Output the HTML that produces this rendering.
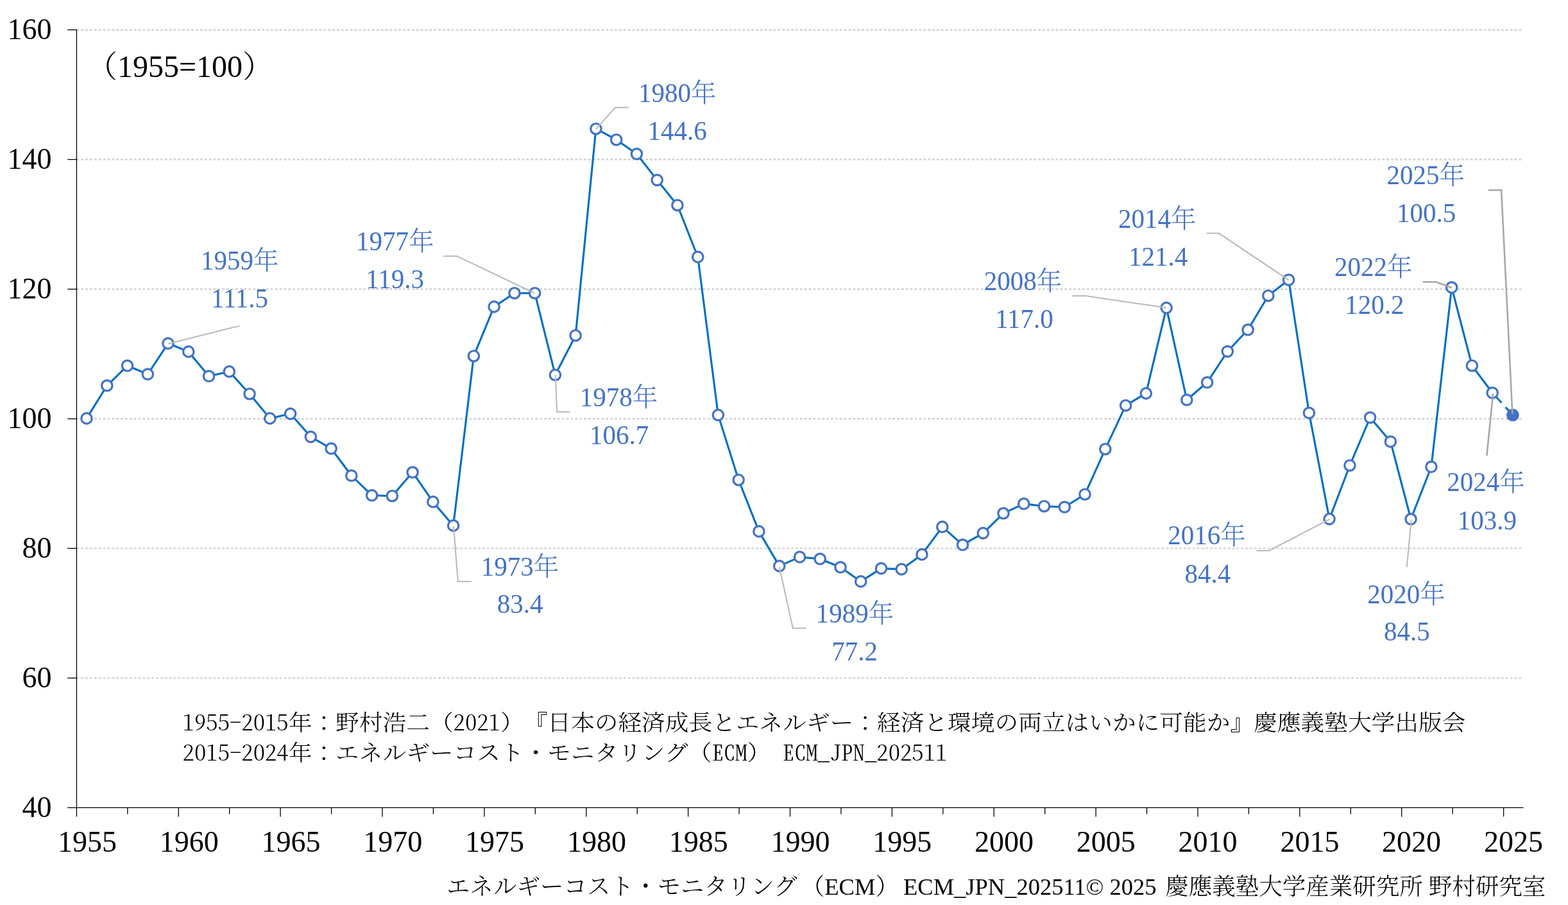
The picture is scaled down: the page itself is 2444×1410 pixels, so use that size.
<!DOCTYPE html>
<html><head><meta charset="utf-8"><title>ECM chart</title>
<style>
html,body{margin:0;padding:0;background:#fff;}
body{width:2444px;height:1410px;overflow:hidden;position:relative;}
svg{position:absolute;left:0;top:0;}
.ax{font-family:"Liberation Serif","Noto Serif CJK JP","Noto Serif CJK SC",serif;font-size:46px;fill:#000;}
.lb{font-family:"Liberation Serif","Noto Serif CJK JP","Noto Serif CJK SC",serif;font-size:41px;fill:#4472C4;font-weight:300;}
.fn{font-family:"Noto Serif CJK JP","Noto Serif CJK SC",serif;font-size:36.7px;fill:#000;text-spacing-trim:space-all;font-weight:300;}
.hw{font-feature-settings:"hwid";}
.cr{font-family:"Liberation Serif","Noto Serif CJK JP","Noto Serif CJK SC",serif;font-size:36.5px;fill:#000;text-spacing-trim:space-all;font-weight:300;}
</style></head><body>
<svg width="2444" height="1410" viewBox="0 0 2444 1410">

<line x1="119.4" y1="1056.4" x2="2374.5" y2="1056.4" stroke="#d0d0d0" stroke-width="2.4" stroke-dasharray="3.7 3.175"/>
<line x1="119.4" y1="854.4" x2="2374.5" y2="854.4" stroke="#d0d0d0" stroke-width="2.4" stroke-dasharray="3.7 3.175"/>
<line x1="119.4" y1="652.5" x2="2374.5" y2="652.5" stroke="#d0d0d0" stroke-width="2.4" stroke-dasharray="3.7 3.175"/>
<line x1="119.4" y1="450.5" x2="2374.5" y2="450.5" stroke="#d0d0d0" stroke-width="2.4" stroke-dasharray="3.7 3.175"/>
<line x1="119.4" y1="248.5" x2="2374.5" y2="248.5" stroke="#d0d0d0" stroke-width="2.4" stroke-dasharray="3.7 3.175"/>
<line x1="119.4" y1="46.5" x2="2374.5" y2="46.5" stroke="#d0d0d0" stroke-width="2.4" stroke-dasharray="3.7 3.175"/>
<line x1="119.4" y1="45.9" x2="119.4" y2="1258.4" stroke="#000" stroke-width="1.3"/>
<line x1="118.80000000000001" y1="1258.4" x2="2374.5" y2="1258.4" stroke="#000" stroke-width="1.3"/>
<line x1="105.2" y1="1258.4" x2="119.4" y2="1258.4" stroke="#000" stroke-width="1.3"/>
<line x1="105.2" y1="1056.4" x2="119.4" y2="1056.4" stroke="#000" stroke-width="1.3"/>
<line x1="105.2" y1="854.4" x2="119.4" y2="854.4" stroke="#000" stroke-width="1.3"/>
<line x1="105.2" y1="652.5" x2="119.4" y2="652.5" stroke="#000" stroke-width="1.3"/>
<line x1="105.2" y1="450.5" x2="119.4" y2="450.5" stroke="#000" stroke-width="1.3"/>
<line x1="105.2" y1="248.5" x2="119.4" y2="248.5" stroke="#000" stroke-width="1.3"/>
<line x1="105.2" y1="46.5" x2="119.4" y2="46.5" stroke="#000" stroke-width="1.3"/>
<line x1="119.4" y1="1258.4" x2="119.4" y2="1272.4" stroke="#000" stroke-width="1.3"/>
<line x1="198.8" y1="1258.4" x2="198.8" y2="1268.4" stroke="#000" stroke-width="1.3"/>
<line x1="278.3" y1="1258.4" x2="278.3" y2="1272.4" stroke="#000" stroke-width="1.3"/>
<line x1="357.7" y1="1258.4" x2="357.7" y2="1268.4" stroke="#000" stroke-width="1.3"/>
<line x1="437.1" y1="1258.4" x2="437.1" y2="1272.4" stroke="#000" stroke-width="1.3"/>
<line x1="516.6" y1="1258.4" x2="516.6" y2="1268.4" stroke="#000" stroke-width="1.3"/>
<line x1="596.0" y1="1258.4" x2="596.0" y2="1272.4" stroke="#000" stroke-width="1.3"/>
<line x1="675.4" y1="1258.4" x2="675.4" y2="1268.4" stroke="#000" stroke-width="1.3"/>
<line x1="754.9" y1="1258.4" x2="754.9" y2="1272.4" stroke="#000" stroke-width="1.3"/>
<line x1="834.3" y1="1258.4" x2="834.3" y2="1268.4" stroke="#000" stroke-width="1.3"/>
<line x1="913.8" y1="1258.4" x2="913.8" y2="1272.4" stroke="#000" stroke-width="1.3"/>
<line x1="993.2" y1="1258.4" x2="993.2" y2="1268.4" stroke="#000" stroke-width="1.3"/>
<line x1="1072.6" y1="1258.4" x2="1072.6" y2="1272.4" stroke="#000" stroke-width="1.3"/>
<line x1="1152.1" y1="1258.4" x2="1152.1" y2="1268.4" stroke="#000" stroke-width="1.3"/>
<line x1="1231.5" y1="1258.4" x2="1231.5" y2="1272.4" stroke="#000" stroke-width="1.3"/>
<line x1="1310.9" y1="1258.4" x2="1310.9" y2="1268.4" stroke="#000" stroke-width="1.3"/>
<line x1="1390.4" y1="1258.4" x2="1390.4" y2="1272.4" stroke="#000" stroke-width="1.3"/>
<line x1="1469.8" y1="1258.4" x2="1469.8" y2="1268.4" stroke="#000" stroke-width="1.3"/>
<line x1="1549.2" y1="1258.4" x2="1549.2" y2="1272.4" stroke="#000" stroke-width="1.3"/>
<line x1="1628.7" y1="1258.4" x2="1628.7" y2="1268.4" stroke="#000" stroke-width="1.3"/>
<line x1="1708.1" y1="1258.4" x2="1708.1" y2="1272.4" stroke="#000" stroke-width="1.3"/>
<line x1="1787.5" y1="1258.4" x2="1787.5" y2="1268.4" stroke="#000" stroke-width="1.3"/>
<line x1="1867.0" y1="1258.4" x2="1867.0" y2="1272.4" stroke="#000" stroke-width="1.3"/>
<line x1="1946.4" y1="1258.4" x2="1946.4" y2="1268.4" stroke="#000" stroke-width="1.3"/>
<line x1="2025.8" y1="1258.4" x2="2025.8" y2="1272.4" stroke="#000" stroke-width="1.3"/>
<line x1="2105.3" y1="1258.4" x2="2105.3" y2="1268.4" stroke="#000" stroke-width="1.3"/>
<line x1="2184.7" y1="1258.4" x2="2184.7" y2="1272.4" stroke="#000" stroke-width="1.3"/>
<line x1="2264.1" y1="1258.4" x2="2264.1" y2="1268.4" stroke="#000" stroke-width="1.3"/>
<line x1="2343.6" y1="1258.4" x2="2343.6" y2="1272.4" stroke="#000" stroke-width="1.3"/>
<text class="ax" x="80.5" y="1272.8" text-anchor="end">40</text>
<text class="ax" x="80.5" y="1070.8" text-anchor="end">60</text>
<text class="ax" x="80.5" y="868.8" text-anchor="end">80</text>
<text class="ax" x="80.5" y="666.9" text-anchor="end">100</text>
<text class="ax" x="80.5" y="464.9" text-anchor="end">120</text>
<text class="ax" x="80.5" y="262.9" text-anchor="end">140</text>
<text class="ax" x="80.5" y="60.9" text-anchor="end">160</text>
<text class="ax" x="136.0" y="1326.9" text-anchor="middle">1955</text>
<text class="ax" x="294.8" y="1326.9" text-anchor="middle">1960</text>
<text class="ax" x="453.6" y="1326.9" text-anchor="middle">1965</text>
<text class="ax" x="612.3" y="1326.9" text-anchor="middle">1970</text>
<text class="ax" x="771.1" y="1326.9" text-anchor="middle">1975</text>
<text class="ax" x="929.9" y="1326.9" text-anchor="middle">1980</text>
<text class="ax" x="1088.7" y="1326.9" text-anchor="middle">1985</text>
<text class="ax" x="1247.5" y="1326.9" text-anchor="middle">1990</text>
<text class="ax" x="1406.2" y="1326.9" text-anchor="middle">1995</text>
<text class="ax" x="1565.0" y="1326.9" text-anchor="middle">2000</text>
<text class="ax" x="1723.8" y="1326.9" text-anchor="middle">2005</text>
<text class="ax" x="1882.6" y="1326.9" text-anchor="middle">2010</text>
<text class="ax" x="2041.4" y="1326.9" text-anchor="middle">2015</text>
<text class="ax" x="2200.1" y="1326.9" text-anchor="middle">2020</text>
<text class="ax" x="2358.9" y="1326.9" text-anchor="middle">2025</text>
<text class="ax" style="font-size:48px;font-weight:300" x="135" y="120">（1955=100）</text>
<polyline points="135.0,651.9 166.8,600.8 198.5,569.8 230.3,583.0 262.0,535.0 293.8,547.9 325.5,586.0 357.3,578.9 389.0,613.7 420.8,651.9 452.6,644.6 484.3,680.6 516.1,698.8 547.8,741.0 579.6,771.8 611.3,772.7 643.1,735.8 674.9,781.9 706.6,818.9 738.4,554.7 770.1,477.9 801.9,456.7 833.6,456.7 865.4,584.2 897.1,522.7 928.9,200.7 960.7,217.7 992.4,239.8 1024.2,280.5 1055.9,319.7 1087.7,400.4 1119.4,646.6 1151.2,747.7 1182.9,827.9 1214.7,881.9 1246.5,867.9 1278.2,870.8 1310.0,883.8 1341.7,905.9 1373.5,885.6 1405.2,886.9 1437.0,863.9 1468.8,820.9 1500.5,848.8 1532.3,830.6 1564.0,799.8 1595.8,784.9 1627.5,788.7 1659.3,790.0 1691.0,770.2 1722.8,699.7 1754.6,631.7 1786.3,612.9 1818.1,479.6 1849.8,623.0 1881.6,595.8 1913.3,547.5 1945.1,513.8 1976.8,460.7 2008.6,436.0 2040.4,643.4 2072.1,808.6 2103.9,725.2 2135.6,650.5 2167.4,688.0 2199.1,808.8 2230.9,727.3 2262.7,447.8 2294.4,569.7 2326.2,612.0" fill="none" stroke="#0070C0" stroke-width="3.1" stroke-linejoin="round" stroke-linecap="round"/>
<line x1="2326.2" y1="612.0" x2="2357.9" y2="646.7" stroke="#0070C0" stroke-width="3.1" stroke-linecap="round" stroke-dasharray="19.7 11.9"/>
<circle cx="135.0" cy="651.9" r="8.2" fill="#fff" stroke="#4472C4" stroke-width="3.2"/>
<circle cx="166.8" cy="600.8" r="8.2" fill="#fff" stroke="#4472C4" stroke-width="3.2"/>
<circle cx="198.5" cy="569.8" r="8.2" fill="#fff" stroke="#4472C4" stroke-width="3.2"/>
<circle cx="230.3" cy="583.0" r="8.2" fill="#fff" stroke="#4472C4" stroke-width="3.2"/>
<circle cx="262.0" cy="535.0" r="8.2" fill="#fff" stroke="#4472C4" stroke-width="3.2"/>
<circle cx="293.8" cy="547.9" r="8.2" fill="#fff" stroke="#4472C4" stroke-width="3.2"/>
<circle cx="325.5" cy="586.0" r="8.2" fill="#fff" stroke="#4472C4" stroke-width="3.2"/>
<circle cx="357.3" cy="578.9" r="8.2" fill="#fff" stroke="#4472C4" stroke-width="3.2"/>
<circle cx="389.0" cy="613.7" r="8.2" fill="#fff" stroke="#4472C4" stroke-width="3.2"/>
<circle cx="420.8" cy="651.9" r="8.2" fill="#fff" stroke="#4472C4" stroke-width="3.2"/>
<circle cx="452.6" cy="644.6" r="8.2" fill="#fff" stroke="#4472C4" stroke-width="3.2"/>
<circle cx="484.3" cy="680.6" r="8.2" fill="#fff" stroke="#4472C4" stroke-width="3.2"/>
<circle cx="516.1" cy="698.8" r="8.2" fill="#fff" stroke="#4472C4" stroke-width="3.2"/>
<circle cx="547.8" cy="741.0" r="8.2" fill="#fff" stroke="#4472C4" stroke-width="3.2"/>
<circle cx="579.6" cy="771.8" r="8.2" fill="#fff" stroke="#4472C4" stroke-width="3.2"/>
<circle cx="611.3" cy="772.7" r="8.2" fill="#fff" stroke="#4472C4" stroke-width="3.2"/>
<circle cx="643.1" cy="735.8" r="8.2" fill="#fff" stroke="#4472C4" stroke-width="3.2"/>
<circle cx="674.9" cy="781.9" r="8.2" fill="#fff" stroke="#4472C4" stroke-width="3.2"/>
<circle cx="706.6" cy="818.9" r="8.2" fill="#fff" stroke="#4472C4" stroke-width="3.2"/>
<circle cx="738.4" cy="554.7" r="8.2" fill="#fff" stroke="#4472C4" stroke-width="3.2"/>
<circle cx="770.1" cy="477.9" r="8.2" fill="#fff" stroke="#4472C4" stroke-width="3.2"/>
<circle cx="801.9" cy="456.7" r="8.2" fill="#fff" stroke="#4472C4" stroke-width="3.2"/>
<circle cx="833.6" cy="456.7" r="8.2" fill="#fff" stroke="#4472C4" stroke-width="3.2"/>
<circle cx="865.4" cy="584.2" r="8.2" fill="#fff" stroke="#4472C4" stroke-width="3.2"/>
<circle cx="897.1" cy="522.7" r="8.2" fill="#fff" stroke="#4472C4" stroke-width="3.2"/>
<circle cx="928.9" cy="200.7" r="8.2" fill="#fff" stroke="#4472C4" stroke-width="3.2"/>
<circle cx="960.7" cy="217.7" r="8.2" fill="#fff" stroke="#4472C4" stroke-width="3.2"/>
<circle cx="992.4" cy="239.8" r="8.2" fill="#fff" stroke="#4472C4" stroke-width="3.2"/>
<circle cx="1024.2" cy="280.5" r="8.2" fill="#fff" stroke="#4472C4" stroke-width="3.2"/>
<circle cx="1055.9" cy="319.7" r="8.2" fill="#fff" stroke="#4472C4" stroke-width="3.2"/>
<circle cx="1087.7" cy="400.4" r="8.2" fill="#fff" stroke="#4472C4" stroke-width="3.2"/>
<circle cx="1119.4" cy="646.6" r="8.2" fill="#fff" stroke="#4472C4" stroke-width="3.2"/>
<circle cx="1151.2" cy="747.7" r="8.2" fill="#fff" stroke="#4472C4" stroke-width="3.2"/>
<circle cx="1182.9" cy="827.9" r="8.2" fill="#fff" stroke="#4472C4" stroke-width="3.2"/>
<circle cx="1214.7" cy="881.9" r="8.2" fill="#fff" stroke="#4472C4" stroke-width="3.2"/>
<circle cx="1246.5" cy="867.9" r="8.2" fill="#fff" stroke="#4472C4" stroke-width="3.2"/>
<circle cx="1278.2" cy="870.8" r="8.2" fill="#fff" stroke="#4472C4" stroke-width="3.2"/>
<circle cx="1310.0" cy="883.8" r="8.2" fill="#fff" stroke="#4472C4" stroke-width="3.2"/>
<circle cx="1341.7" cy="905.9" r="8.2" fill="#fff" stroke="#4472C4" stroke-width="3.2"/>
<circle cx="1373.5" cy="885.6" r="8.2" fill="#fff" stroke="#4472C4" stroke-width="3.2"/>
<circle cx="1405.2" cy="886.9" r="8.2" fill="#fff" stroke="#4472C4" stroke-width="3.2"/>
<circle cx="1437.0" cy="863.9" r="8.2" fill="#fff" stroke="#4472C4" stroke-width="3.2"/>
<circle cx="1468.8" cy="820.9" r="8.2" fill="#fff" stroke="#4472C4" stroke-width="3.2"/>
<circle cx="1500.5" cy="848.8" r="8.2" fill="#fff" stroke="#4472C4" stroke-width="3.2"/>
<circle cx="1532.3" cy="830.6" r="8.2" fill="#fff" stroke="#4472C4" stroke-width="3.2"/>
<circle cx="1564.0" cy="799.8" r="8.2" fill="#fff" stroke="#4472C4" stroke-width="3.2"/>
<circle cx="1595.8" cy="784.9" r="8.2" fill="#fff" stroke="#4472C4" stroke-width="3.2"/>
<circle cx="1627.5" cy="788.7" r="8.2" fill="#fff" stroke="#4472C4" stroke-width="3.2"/>
<circle cx="1659.3" cy="790.0" r="8.2" fill="#fff" stroke="#4472C4" stroke-width="3.2"/>
<circle cx="1691.0" cy="770.2" r="8.2" fill="#fff" stroke="#4472C4" stroke-width="3.2"/>
<circle cx="1722.8" cy="699.7" r="8.2" fill="#fff" stroke="#4472C4" stroke-width="3.2"/>
<circle cx="1754.6" cy="631.7" r="8.2" fill="#fff" stroke="#4472C4" stroke-width="3.2"/>
<circle cx="1786.3" cy="612.9" r="8.2" fill="#fff" stroke="#4472C4" stroke-width="3.2"/>
<circle cx="1818.1" cy="479.6" r="8.2" fill="#fff" stroke="#4472C4" stroke-width="3.2"/>
<circle cx="1849.8" cy="623.0" r="8.2" fill="#fff" stroke="#4472C4" stroke-width="3.2"/>
<circle cx="1881.6" cy="595.8" r="8.2" fill="#fff" stroke="#4472C4" stroke-width="3.2"/>
<circle cx="1913.3" cy="547.5" r="8.2" fill="#fff" stroke="#4472C4" stroke-width="3.2"/>
<circle cx="1945.1" cy="513.8" r="8.2" fill="#fff" stroke="#4472C4" stroke-width="3.2"/>
<circle cx="1976.8" cy="460.7" r="8.2" fill="#fff" stroke="#4472C4" stroke-width="3.2"/>
<circle cx="2008.6" cy="436.0" r="8.2" fill="#fff" stroke="#4472C4" stroke-width="3.2"/>
<circle cx="2040.4" cy="643.4" r="8.2" fill="#fff" stroke="#4472C4" stroke-width="3.2"/>
<circle cx="2072.1" cy="808.6" r="8.2" fill="#fff" stroke="#4472C4" stroke-width="3.2"/>
<circle cx="2103.9" cy="725.2" r="8.2" fill="#fff" stroke="#4472C4" stroke-width="3.2"/>
<circle cx="2135.6" cy="650.5" r="8.2" fill="#fff" stroke="#4472C4" stroke-width="3.2"/>
<circle cx="2167.4" cy="688.0" r="8.2" fill="#fff" stroke="#4472C4" stroke-width="3.2"/>
<circle cx="2199.1" cy="808.8" r="8.2" fill="#fff" stroke="#4472C4" stroke-width="3.2"/>
<circle cx="2230.9" cy="727.3" r="8.2" fill="#fff" stroke="#4472C4" stroke-width="3.2"/>
<circle cx="2262.7" cy="447.8" r="8.2" fill="#fff" stroke="#4472C4" stroke-width="3.2"/>
<circle cx="2294.4" cy="569.7" r="8.2" fill="#fff" stroke="#4472C4" stroke-width="3.2"/>
<circle cx="2326.2" cy="612.0" r="8.2" fill="#fff" stroke="#4472C4" stroke-width="3.2"/>
<circle cx="2357.9" cy="646.7" r="8.4" fill="#4472C4" stroke="#4472C4" stroke-width="3"/>
<polyline points="262.4,535.5 373.5,507.6" fill="none" stroke="#b9b9b9" stroke-width="2.0"/>
<polyline points="707.0,820.2 713.8,905.9 734.8,905.9" fill="none" stroke="#b9b9b9" stroke-width="2.0"/>
<polyline points="691.2,398.9 711.9,398.9 833.0,456.6" fill="none" stroke="#b9b9b9" stroke-width="2.0"/>
<polyline points="865.9,584.2 868.0,641.8 888.7,641.8" fill="none" stroke="#b9b9b9" stroke-width="2.0"/>
<polyline points="928.7,201.3 958.9,167.6 979.8,167.6" fill="none" stroke="#b9b9b9" stroke-width="2.0"/>
<polyline points="1214.8,883.3 1235.8,978.7 1256.7,978.7" fill="none" stroke="#b9b9b9" stroke-width="2.0"/>
<polyline points="1671.2,461.0 1692.5,461.0 1818.1,479.5" fill="none" stroke="#b9b9b9" stroke-width="2.0"/>
<polyline points="1880.4,363.6 1900.0,363.6 2008.4,436.2" fill="none" stroke="#b9b9b9" stroke-width="2.0"/>
<polyline points="1958.4,857.9 1978.0,857.9 2072.3,809.0" fill="none" stroke="#b9b9b9" stroke-width="2.0"/>
<polyline points="2199.8,809.5 2192.7,883.7" fill="none" stroke="#b9b9b9" stroke-width="2.0"/>
<polyline points="2217.6,439.3 2238.0,439.3 2262.9,448.3" fill="none" stroke="#a5a5a5" stroke-width="2.5"/>
<polyline points="2327.1,613.3 2317.4,709.8" fill="none" stroke="#a5a5a5" stroke-width="2.5"/>
<polyline points="2319.9,296.3 2340.1,296.3 2357.4,645.1" fill="none" stroke="#a5a5a5" stroke-width="2.5"/>
<text class="lb" transform="translate(373.75,420.3) scale(1,1.024)" text-anchor="middle">1959<tspan style="font-size:39.5px">年</tspan></text>
<text class="lb" transform="translate(373.50,479.0) scale(1,1.024)" text-anchor="middle">111.5</text>
<text class="lb" transform="translate(810.55,896.8) scale(1,1.024)" text-anchor="middle">1973<tspan style="font-size:39.5px">年</tspan></text>
<text class="lb" transform="translate(810.55,955.3) scale(1,1.024)" text-anchor="middle">83.4</text>
<text class="lb" transform="translate(615.80,389.6) scale(1,1.024)" text-anchor="middle">1977<tspan style="font-size:39.5px">年</tspan></text>
<text class="lb" transform="translate(615.65,448.8) scale(1,1.024)" text-anchor="middle">119.3</text>
<text class="lb" transform="translate(964.55,633.1) scale(1,1.024)" text-anchor="middle">1978<tspan style="font-size:39.5px">年</tspan></text>
<text class="lb" transform="translate(965.15,691.9) scale(1,1.024)" text-anchor="middle">106.7</text>
<text class="lb" transform="translate(1055.70,158.8) scale(1,1.024)" text-anchor="middle">1980<tspan style="font-size:39.5px">年</tspan></text>
<text class="lb" transform="translate(1055.70,217.7) scale(1,1.024)" text-anchor="middle">144.6</text>
<text class="lb" transform="translate(1332.60,969.8) scale(1,1.024)" text-anchor="middle">1989<tspan style="font-size:39.5px">年</tspan></text>
<text class="lb" transform="translate(1332.05,1028.9) scale(1,1.024)" text-anchor="middle">77.2</text>
<text class="lb" transform="translate(1594.60,451.9) scale(1,1.024)" text-anchor="middle">2008<tspan style="font-size:39.5px">年</tspan></text>
<text class="lb" transform="translate(1596.50,510.8) scale(1,1.024)" text-anchor="middle">117.0</text>
<text class="lb" transform="translate(1803.75,355.2) scale(1,1.024)" text-anchor="middle">2014<tspan style="font-size:39.5px">年</tspan></text>
<text class="lb" transform="translate(1805.15,414.1) scale(1,1.024)" text-anchor="middle">121.4</text>
<text class="lb" transform="translate(1881.10,848.1) scale(1,1.024)" text-anchor="middle">2016<tspan style="font-size:39.5px">年</tspan></text>
<text class="lb" transform="translate(1882.35,908.1) scale(1,1.024)" text-anchor="middle">84.4</text>
<text class="lb" transform="translate(2192.10,939.9) scale(1,1.024)" text-anchor="middle">2020<tspan style="font-size:39.5px">年</tspan></text>
<text class="lb" transform="translate(2192.85,998.4) scale(1,1.024)" text-anchor="middle">84.5</text>
<text class="lb" transform="translate(2140.65,429.7) scale(1,1.024)" text-anchor="middle">2022<tspan style="font-size:39.5px">年</tspan></text>
<text class="lb" transform="translate(2142.30,488.7) scale(1,1.024)" text-anchor="middle">120.2</text>
<text class="lb" transform="translate(2316.10,765.4) scale(1,1.024)" text-anchor="middle">2024<tspan style="font-size:39.5px">年</tspan></text>
<text class="lb" transform="translate(2317.85,824.7) scale(1,1.024)" text-anchor="middle">103.9</text>
<text class="lb" transform="translate(2222.20,286.9) scale(1,1.024)" text-anchor="middle">2025<tspan style="font-size:39.5px">年</tspan></text>
<text class="lb" transform="translate(2223.05,345.8) scale(1,1.024)" text-anchor="middle">100.5</text>
<text class="fn" transform="translate(284.6,1137.8) scale(1,0.925)"><tspan class="hw">1955-2015</tspan>年：野村浩二（<tspan class="hw">2021</tspan>）『日本の経済成長とエネルギー：経済と環境の両立はいかに可能か』慶應義塾大学出版会</text>
<text class="fn" transform="translate(284.6,1184.9) scale(1,0.925)" xml:space="preserve"><tspan class="hw">2015-2024</tspan>年：エネルギーコスト・モニタリング（<tspan class="hw">ECM</tspan>）<tspan class="hw"> ECM_JPN_202511</tspan></text>
<text class="cr" x="696" y="1394">エネルギーコスト・モニタリング</text>
<text class="cr" x="1248.8" y="1394">（ECM）</text>
<text class="cr" x="1408" y="1394">ECM_JPN_202511© 2025</text>
<text class="cr" x="1816.2" y="1394">慶應義塾大学産業研究所 野村研究室</text>
</svg></body></html>
